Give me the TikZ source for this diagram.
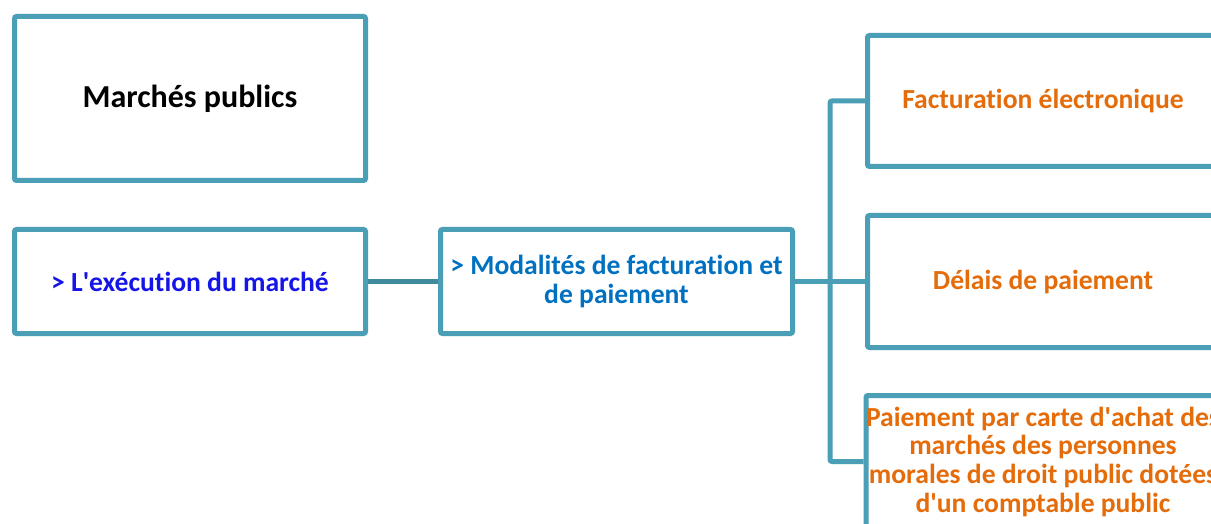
\documentclass[tikz,border=0pt]{standalone}
\usepackage{fontspec}
\setmainfont{Carlito}[Ligatures={NoCommon}]
\definecolor{frame}{HTML}{4A9EB5}
\definecolor{link}{HTML}{3F8A9C}
\definecolor{blueA}{HTML}{1515E8}
\definecolor{blueB}{HTML}{0070C0}
\definecolor{orangeT}{HTML}{E46C0A}
\newcommand{\ap}{\textquotesingle}
\begin{document}
\begin{tikzpicture}[x=0.75pt,y=-0.75pt,
  box/.style={draw=frame,line width=3.75pt,rounded corners=1.5pt,fill=white,inner sep=0pt,align=center,font=\bfseries\fontsize{20.7}{21.5}\selectfont},
  conn/.style={draw=frame,line width=3.75pt,rounded corners=1.5pt}]
\fill[white] (0,0) rectangle (1211,524);
\clip (0,0) rectangle (1211,524);
\node[box,minimum width=263.25pt,minimum height=123pt,font=\bfseries\fontsize{24}{28}\selectfont] (mp) at (190,98.5) {Marchés publics};
\node[box,minimum width=263.25pt,minimum height=78pt,text=blueA] (ex) at (190,281.5) {> L\ap{}exécution du marché};
\node[box,minimum width=264pt,minimum height=78pt,text=blueB] (mo) at (616.5,281.5) {> Modalités de facturation et\\de paiement};
\node[box,minimum width=263.25pt,minimum height=98.25pt,text=orangeT] (fe) at (1043,101) {Facturation électronique};
\node[box,minimum width=263.25pt,minimum height=99pt,text=orangeT] (dp) at (1043,281.5) {Délais de paiement};
\node[box,minimum width=263.25pt,minimum height=99pt,text=orangeT] (pc) at (1043,461.5) {Paiement par carte d\ap{}achat des\\marchés des personnes\\morales de droit public dotées\\d\ap{}un comptable public};
\coordinate (j) at (830,281.5);
\draw[draw=link,line width=3.75pt] (ex.east) -- (mo.west);
\draw[conn] (mo.east) -- (j);
\draw[conn] (fe.west) -| (j) |- (pc.west);
\draw[conn] (j) -- (dp.west);
\end{tikzpicture}
\end{document}
